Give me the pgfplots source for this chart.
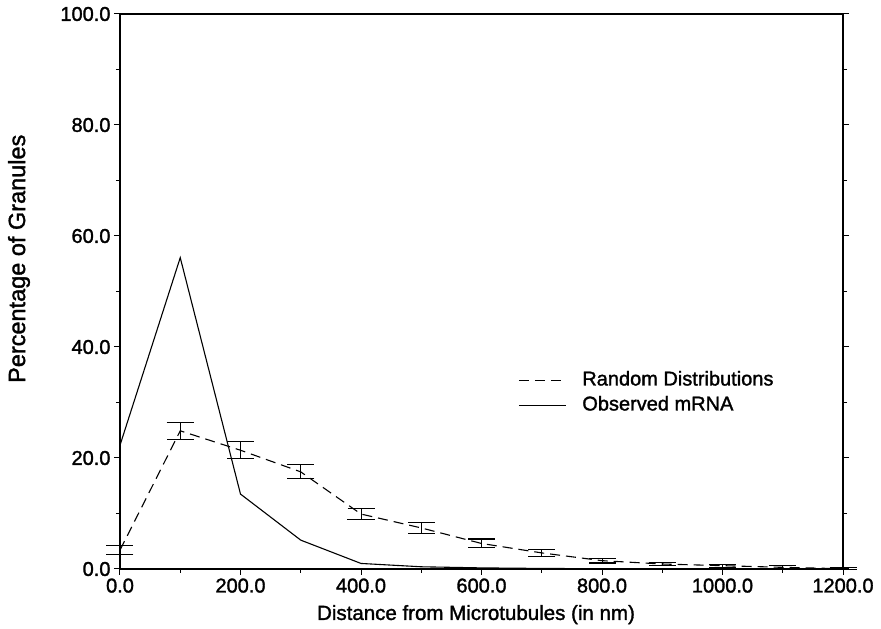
\documentclass[border=0pt]{standalone}
\usepackage{fontspec}
\setmainfont{Liberation Sans}[FakeBold=1.5]
\usepackage{pgfplots}
\pgfplotsset{compat=1.18}
\begin{document}
\begin{tikzpicture}
\begin{axis}[
  name=ax,
  scale only axis,
  clip=false,
  width=723pt, height=555pt,
  xmin=0, xmax=1200, ymin=0, ymax=100,
  xtick={0,200,...,1200},
  minor xtick={100,300,...,1100},
  ytick={0,20,...,100},
  minor ytick={10,30,...,90},
  xtick pos=bottom,
  ytick pos=both,
  yticklabel pos=left,
  tick align=outside,
  major tick length=6pt,
  minor tick length=4pt,
  axis line style={line width=1.3pt},
  every tick/.style={black, line width=1pt},
  /pgf/number format/assume math mode=true,
  /pgf/number format/.cd, fixed, fixed zerofill, precision=1, 1000 sep={},
  /pgfplots/.cd,
  ticklabel style={font=\fontsize{20}{24}\selectfont},
  xlabel={Distance from Microtubules (in nm)},
  ylabel={Percentage of Granules},
  xlabel style={font=\fontsize{20.5}{24}\selectfont, at={(axis description cs:0.4924,-0.0822)}, anchor=center},
  ylabel style={font=\fontsize{23.5}{28}\selectfont, at={(axis description cs:-0.1397,0.559)}, anchor=center, rotate=0},
  legend style={draw=none, fill=none, inner sep=0pt, column sep=16pt,
    at={(axis cs:660.6,36.3)}, anchor=north west,
    font=\fontsize{20}{24}\selectfont,
    nodes={inner xsep=0pt, inner ysep=3.25pt, text height=14.5pt, text depth=4pt}},
  legend cell align=left,
  legend image code/.code={\draw[#1] (0pt,0pt) -- (47pt,0pt);},
]
\addplot[black, line width=1.1pt, dash pattern=on 10pt off 6pt,
  error bars/.cd, y dir=both, y explicit,
  error mark=|, error mark options={black, mark size=13.5pt, line width=1.1pt, solid},
  error bar style={black, line width=0.9pt, solid}]
  table[x=x, y=y, y error=e] {
x y e
0 3.4 0.8
100 24.9 1.56
200 21.4 1.5
300 17.5 1.27
400 9.9 1.05
500 7.4 1.05
600 4.6 0.8
700 2.9 0.58
800 1.5 0.42
900 0.9 0.3
1000 0.6 0.28
1100 0.3 0.25
1200 0.05 0.2
};
\addlegendentry{Random Distributions}
\addplot[black, line width=1.1pt] table {
0 22.3
100 56.1
200 13.5
300 5.2
400 1.0
500 0.4
600 0.2
700 0.1
800 0.05
900 0.02
1000 0.0
1100 0.0
1200 0.0
};
\addlegendentry{Observed mRNA}
\end{axis}
\pgfresetboundingbox
\path[use as bounding box] ([xshift=-120pt,yshift=-60pt]ax.south west) rectangle ([xshift=38pt,yshift=14pt]ax.north east);
\end{tikzpicture}
\end{document}
